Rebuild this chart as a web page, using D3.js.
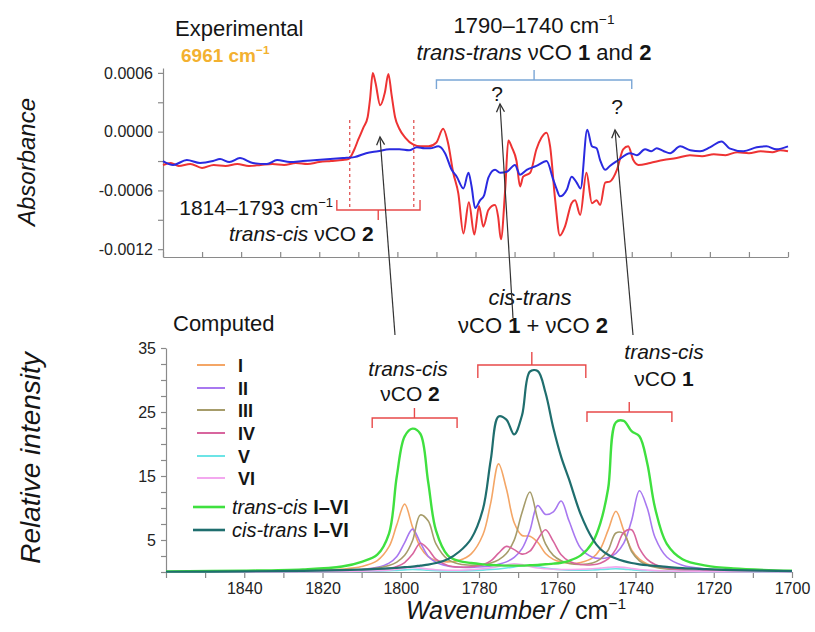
<!DOCTYPE html>
<html>
<head>
<meta charset="utf-8">
<script src="https://cdn.jsdelivr.net/npm/d3@7"></script>
<style>
  html, body { margin: 0; padding: 0; background: #fff; }
  svg { display: block; font-family: "Liberation Sans", Arial, sans-serif; }
</style>
</head>
<body>
<svg id="chart" width="815" height="632"></svg>
<script>
// ---- experimental spectra (wavenumber, absorbance) ----
const expRed = [
  [1860,-3.4e-4],[1858,-3.2e-4],[1856,-3.5e-4],[1853,-3.3e-4],[1850,-3.7e-4],[1847,-3.4e-4],
  [1844,-3.5e-4],[1841,-3.3e-4],[1838,-3.5e-4],[1835,-3.4e-4],[1832,-3.3e-4],[1829,-3.4e-4],
  [1826,-3.2e-4],[1823,-3.3e-4],[1820,-3.1e-4],[1817,-3.0e-4],[1814,-2.9e-4],[1812.5,-2.8e-4],
  [1811,-1.8e-4],[1810,-0.8e-4],[1808.7,0.4e-4],[1807.6,1.5e-4],[1807,3.3e-4],[1806.3,6.0e-4],
  [1805.6,5.0e-4],[1804.4,2.7e-4],[1803.2,4.0e-4],[1802.3,5.9e-4],[1801.5,3.8e-4],[1800.6,1.5e-4],
  [1799.5,0.3e-4],[1798,-0.6e-4],[1796,-1.3e-4],[1794,-1.5e-4],[1792,-1.5e-4],[1790,-1.1e-4],
  [1788.3,0.3e-4],[1787,-1.2e-4],[1785.7,-4.2e-4],[1784.4,-6.3e-4],[1783.1,-10.4e-4],[1781.7,-7.2e-4],
  [1780.3,-10.5e-4],[1779.1,-7.6e-4],[1778,-9.7e-4],[1776.7,-8.0e-4],[1775,-7.5e-4],[1774.2,-8.7e-4],
  [1773.5,-11.0e-4],[1772.4,-5.9e-4],[1771.6,-0.9e-4],[1770.7,-1.6e-4],[1769.5,-3.0e-4],[1768.6,-5.6e-4],
  [1767.8,-4.6e-4],[1766,-4.2e-4],[1764.4,-1.8e-4],[1763.1,-0.6e-4],[1761.8,-0.1e-4],[1760.9,-1.5e-4],
  [1759.6,-7.0e-4],[1758.4,-10.6e-4],[1757.1,-9.7e-4],[1755.4,-7.3e-4],[1754.5,-7.0e-4],[1753.2,-8.5e-4],
  [1751.6,-4.2e-4],[1750.2,-7.3e-4],[1749,-7.0e-4],[1748.1,-7.5e-4],[1746.8,-5.2e-4],[1745.6,-5.1e-4],
  [1743.8,-3.9e-4],[1742.2,-1.8e-4],[1740.9,-1.5e-4],[1739.6,-2.9e-4],[1738.3,-3.4e-4],[1735.3,-3.2e-4],
  [1731.9,-2.9e-4],[1728.5,-2.7e-4],[1725.1,-2.4e-4],[1722,-2.5e-4],[1719,-2.3e-4],[1716,-2.4e-4],
  [1713,-2.1e-4],[1710,-2.2e-4],[1707,-2.0e-4],[1704,-2.1e-4],[1702,-1.9e-4],[1700,-2.0e-4]
];
const expBlue = [
  [1860,-3.0e-4],[1857.4,-3.4e-4],[1853.9,-2.9e-4],[1850.5,-3.2e-4],[1847.2,-3.0e-4],[1845.4,-2.8e-4],
  [1843,-3.1e-4],[1840.3,-2.7e-4],[1837,-3.2e-4],[1833.4,-3.3e-4],[1830.8,-2.9e-4],[1827.5,-3.1e-4],
  [1824.2,-3.0e-4],[1820.6,-2.9e-4],[1817.2,-2.8e-4],[1813.9,-2.7e-4],[1811,-2.6e-4],[1808,-2.2e-4],
  [1805,-2.0e-4],[1802,-1.8e-4],[1799.5,-1.8e-4],[1797,-1.9e-4],[1795,-1.6e-4],[1793,-1.7e-4],
  [1791.6,-1.7e-4],[1789.5,-1.5e-4],[1787.8,-2.2e-4],[1786.1,-3.9e-4],[1784.8,-4.6e-4],[1783.1,-5.8e-4],
  [1781.8,-4.2e-4],[1781,-5.6e-4],[1780.1,-7.8e-4],[1778.8,-7.0e-4],[1777.8,-6.5e-4],[1776.7,-4.7e-4],
  [1775,-3.9e-4],[1773.7,-4.2e-4],[1772,-4.1e-4],[1769.9,-3.4e-4],[1768.6,-4.4e-4],[1766.9,-3.9e-4],
  [1764.4,-3.5e-4],[1761.8,-3.0e-4],[1760.1,-4.9e-4],[1759.2,-5.9e-4],[1758.4,-6.6e-4],[1756.6,-5.9e-4],
  [1755.4,-4.6e-4],[1754.1,-5.2e-4],[1753.1,-5.8e-4],[1751.4,0.2e-4],[1750.2,-1.5e-4],[1749,-1.7e-4],
  [1748.1,-2.9e-4],[1746.8,-3.9e-4],[1745.6,-3.5e-4],[1743.8,-3.0e-4],[1740.4,-2.2e-4],[1738.7,-2.4e-4],
  [1736.6,-1.8e-4],[1735,-2.0e-4],[1733.6,-1.7e-4],[1731.8,-2.0e-4],[1730.2,-2.2e-4],[1727.6,-1.5e-4],
  [1725,-1.9e-4],[1722.5,-2.0e-4],[1720,-1.6e-4],[1717,-1.0e-4],[1715,-1.7e-4],[1711.4,-2.0e-4],
  [1708,-1.6e-4],[1705.5,-1.5e-4],[1703,-1.8e-4],[1700,-1.5e-4]
];

// ---- computed spectra, sampled on a common wavenumber grid ----
const calcWn = [1860,1840,1825,1815,1810,1806,1803,1801,1799,1797,1795,1793,1791,1788,1785,1782,1779,1777,1775,1773,
  1771,1769,1767,1765,1763,1761,1759,1757,1754,1751,1749,1747,1745,1743,1741,1739,1737,1735,1732,1728,1722,1715,1700];
const calcI   = [0.05,0.1,0.21,0.45,0.85,1.78,3.95,7.4,10.6,7.05,3.9,2.4,1.8,1.58,1.84,2.84,5.82,10.8,16.9,13.0,
  7.7,5.7,5.6,4.65,2.9,1.97,1.55,1.36,1.49,2.2,3.6,6.55,9.5,6.5,3.45,2.0,1.25,0.87,0.56,0.36,0.22,0.13,0.05];
const calcII  = [0.05,0.07,0.12,0.24,0.4,0.73,1.39,2.44,4.6,6.7,4.6,2.46,1.52,0.94,0.74,0.73,0.82,0.95,1.2,1.58,
  2.3,3.65,6.46,10.4,9.0,9.4,11.1,8.0,3.7,2.3,2.1,2.25,2.9,4.5,8.05,12.7,10.0,5.4,2.35,1.05,0.47,0.25,0.1];
const calcIII = [0.05,0.07,0.12,0.25,0.39,0.63,1.03,1.55,2.6,4.88,8.9,8.0,4.4,1.98,1.24,1.05,1.15,1.39,1.89,2.88,
  4.98,9.3,12.5,8.22,4.4,2.6,1.76,1.35,1.18,1.42,2.02,3.4,6.1,6.0,3.2,1.75,1.08,0.73,0.46,0.28,0.17,0.1,0.04];
const calcIV  = [0.03,0.04,0.07,0.13,0.21,0.35,0.57,0.87,1.48,2.78,4.5,3.55,2.0,1.03,0.77,0.81,1.14,1.73,2.94,4.0,
  3.5,2.8,3.25,5.08,6.6,4.78,2.68,1.69,1.17,1.14,1.38,2.04,3.57,6.2,6.6,3.7,1.97,1.16,0.62,0.34,0.17,0.09,0.03];
const calcV   = [0.02,0.03,0.05,0.08,0.1,0.14,0.2,0.26,0.33,0.4,0.35,0.27,0.22,0.17,0.18,0.22,0.3,0.38,0.48,0.62,
  0.8,0.97,1.0,0.85,0.62,0.45,0.35,0.3,0.28,0.32,0.38,0.45,0.5,0.45,0.35,0.26,0.2,0.15,0.11,0.07,0.05,0.03,0.02];
const calcVI  = [0.02,0.04,0.06,0.1,0.14,0.2,0.3,0.42,0.58,0.7,0.6,0.45,0.35,0.28,0.28,0.35,0.5,0.65,0.85,1.1,
  1.3,1.15,0.85,0.62,0.5,0.42,0.4,0.4,0.42,0.5,0.6,0.72,0.8,0.72,0.55,0.4,0.3,0.22,0.15,0.1,0.06,0.04,0.02];
const calcTransCis = [0.1,0.2,0.4,0.85,1.6,2.7,6.0,15.0,21.2,22.4,21.6,14.1,6.5,2.6,1.7,1.4,1.2,1.1,1.05,1.0,
  1.0,1.0,1.05,1.1,1.2,1.3,1.45,1.75,2.6,4.6,7.6,13.0,23.4,23.6,22.0,21.2,17.0,10.0,4.4,2.0,1.0,0.55,0.2];
const calcCisTrans = [0.04,0.1,0.18,0.3,0.38,0.48,0.57,0.65,0.75,0.85,1.0,1.15,1.4,2.0,3.2,5.2,9.8,17.5,24.3,23.8,
  21.5,24.5,31.3,31.4,28.0,22.5,18.0,14.5,9.0,5.2,3.6,2.7,2.1,1.7,1.4,1.2,1.05,0.95,0.8,0.6,0.45,0.3,0.15];

const seriesNames = ['I', 'II', 'III', 'IV', 'V', 'VI'];
const seriesColors = ['#f4a666', '#a878f0', '#a69c6a', '#d8659e', '#6ce4e6', '#f3a8ef'];
const greenColor = '#3fe03f', tealColor = '#1f6e6e';

const topYTicks = [0.0006, 0.0003, 0, -0.0003, -0.0006, -0.0009, -0.0012];
const topYLabels = [0.0006, 0, -0.0006, -0.0012];
const wnTicks = d3.range(1860, 1699, -10);

// ---- setup ----
const svg = d3.select('#chart');
const FONT = '"Liberation Sans", Arial, sans-serif';
const axisGrey = '#8a8a8a';
const ANN = 22; // annotation font size
const ANN2 = 21; // stacked two-line labels

const x1 = d3.scaleLinear().domain([1860, 1700]).range([163, 788]);
const y1 = d3.scaleLinear().domain([-0.00128, 0.00065]).range([257, 68]);
const x2 = d3.scaleLinear().domain([1860, 1700]).range([166, 792]);
const y2 = d3.scaleLinear().domain([0, 35]).range([572, 348]);

function styleAxis(g) {
  g.attr('font-size', 16).attr('font-family', FONT);
  g.selectAll('.domain, .tick line').attr('stroke', axisGrey).attr('stroke-width', 1.2);
  g.selectAll('.tick text').attr('fill', '#222');
}

// rich text: parts = [{t, i, b, sup}]
function richText(x, y, parts, size, anchor, fill) {
  const t = svg.append('text').attr('x', x).attr('y', y)
    .attr('font-size', size).attr('text-anchor', anchor || 'start')
    .attr('fill', fill || '#151515');
  parts.forEach(p => {
    const s = t.append('tspan').text(p.t);
    if (p.i) s.attr('font-style', 'italic');
    if (p.b) s.attr('font-weight', 'bold');
    if (p.sup) s.attr('font-size', size * 0.62).attr('dy', -size * 0.4);
  });
  return t;
}

function bracket(xa, xb, xc, y, endY, tipY, color) {
  svg.append('path')
    .attr('d', `M${xa},${endY}L${xa},${y}L${xb},${y}L${xb},${endY}M${xc},${y}L${xc},${tipY}`)
    .attr('fill', 'none').attr('stroke', color).attr('stroke-width', 1.4);
}

// ---- top panel: axes ----
svg.append('g').attr('transform', 'translate(0,257)')
  .call(d3.axisBottom(x1).tickValues(wnTicks).tickSize(-5).tickSizeOuter(0).tickFormat(''))
  .call(styleAxis);
svg.append('g').attr('transform', 'translate(163,0)')
  .call(d3.axisLeft(y1).tickValues(topYTicks).tickSize(5).tickSizeOuter(0).tickPadding(5)
    .tickFormat(d => topYLabels.includes(d) ? d.toFixed(4) : ''))
  .call(styleAxis);

// dashed range markers
[1812.2, 1795.8].forEach(w => {
  svg.append('line').attr('x1', x1(w)).attr('x2', x1(w)).attr('y1', 120).attr('y2', 207)
    .attr('stroke', '#e05555').attr('stroke-width', 1.3).attr('stroke-dasharray', '3,3');
});

const topLine = d3.line().x(d => x1(d[0])).y(d => y1(d[1])).curve(d3.curveMonotoneX);
svg.append('path').datum(expRed).attr('d', topLine)
  .attr('fill', 'none').attr('stroke', '#ee3333').attr('stroke-width', 2);
svg.append('path').datum(expBlue).attr('d', topLine)
  .attr('fill', 'none').attr('stroke', '#2a2ae0').attr('stroke-width', 2);

// ---- bottom panel: axes ----
svg.append('g').attr('transform', 'translate(0,572)')
  .call(d3.axisBottom(x2).tickValues(wnTicks).tickSize(6).tickSizeOuter(0).tickPadding(5)
    .tickFormat(d => (d % 20 === 0 && d !== 1860) ? d : ''))
  .call(styleAxis);
svg.append('g').attr('transform', 'translate(166,0)')
  .call(d3.axisLeft(y2).tickValues(d3.range(0, 35.1, 2.5)).tickSize(5).tickSizeOuter(0).tickPadding(5)
    .tickFormat(d => d % 10 === 5 ? d : ''))
  .call(styleAxis);

const calcLine = vals => d3.line()
  .x((d, i) => x2(calcWn[i])).y(d => y2(d))
  .curve(d3.curveCatmullRom.alpha(0.5))(vals);

[calcI, calcII, calcIII, calcIV, calcV, calcVI].forEach((vals, k) => {
  svg.append('path').attr('d', calcLine(vals))
    .attr('fill', 'none').attr('stroke', seriesColors[k]).attr('stroke-width', 1.6);
});
svg.append('path').attr('d', calcLine(calcTransCis))
  .attr('fill', 'none').attr('stroke', greenColor).attr('stroke-width', 2.4);
svg.append('path').attr('d', calcLine(calcCisTrans))
  .attr('fill', 'none').attr('stroke', tealColor).attr('stroke-width', 2.2);

// ---- legend ----
const legendRows = [365, 388, 410, 433, 456, 478];
seriesNames.forEach((n, k) => {
  svg.append('line').attr('x1', 197).attr('x2', 225).attr('y1', legendRows[k]).attr('y2', legendRows[k])
    .attr('stroke', seriesColors[k]).attr('stroke-width', 2);
  richText(238, legendRows[k] + 6.5, [{ t: n, b: true }], 18);
});
[[507, greenColor, 'trans-cis'], [530, tealColor, 'cis-trans']].forEach(([yy, c, lbl]) => {
  svg.append('line').attr('x1', 193).attr('x2', 225).attr('y1', yy).attr('y2', yy)
    .attr('stroke', c).attr('stroke-width', 2.6);
  richText(232, yy + 7, [{ t: lbl + ' ', i: true }, { t: 'I–VI', b: true }], 20);
});

// ---- axis titles ----
svg.append('text').attr('transform', 'translate(35,162) rotate(-90)')
  .attr('text-anchor', 'middle').attr('font-size', 24).attr('font-style', 'italic')
  .attr('fill', '#151515').text('Absorbance');
svg.append('text').attr('transform', 'translate(40,458) rotate(-90)')
  .attr('text-anchor', 'middle').attr('font-size', 28).attr('font-style', 'italic')
  .attr('fill', '#151515').text('Relative intensity');
richText(516, 619, [{ t: 'Wavenumber / ', i: true }, { t: 'cm' }, { t: '−1', sup: true }], 25, 'middle');

// ---- annotations ----
richText(175, 36, [{ t: 'Experimental' }], ANN);
richText(181, 62, [{ t: '6961 cm', b: true }, { t: '−1', b: true, sup: true }], 19, 'start', '#f3b130');
richText(173, 331, [{ t: 'Computed' }], ANN);

richText(534, 33, [{ t: '1790–1740 cm' }, { t: '−1', sup: true }], ANN, 'middle');
richText(534, 60, [{ t: 'trans-trans', i: true }, { t: ' νCO ' }, { t: '1', b: true }, { t: ' and ' }, { t: '2', b: true }], ANN, 'middle');
bracket(x1(1790), x1(1740), x1(1765), 80, 89, 70, '#7aa6d6');

richText(333, 215, [{ t: '1814–1793 cm' }, { t: '−1', sup: true }], ANN2, 'end');
richText(229, 241, [{ t: 'trans-cis', i: true }, { t: ' νCO ' }, { t: '2', b: true }], ANN2);
bracket(x1(1815.5), x1(1794.2), x1(1804.9), 210, 200, 220, '#e84a4a');

richText(497, 101, [{ t: '?' }], 21, 'middle');
richText(617, 114, [{ t: '?' }], 21, 'middle');

richText(408, 376, [{ t: 'trans-cis', i: true }], ANN2, 'middle');
richText(410, 401, [{ t: 'νCO ' }, { t: '2', b: true }], ANN2, 'middle');
bracket(x2(1807.3), x2(1785.6), x2(1796.5), 418, 428, 408, '#e84a4a');

richText(530, 305, [{ t: 'cis-trans', i: true }], ANN, 'middle');
richText(533, 333, [{ t: 'νCO ' }, { t: '1', b: true }, { t: ' + νCO ' }, { t: '2', b: true }], ANN, 'middle');
bracket(x2(1780.3), x2(1752.7), x2(1766.5), 365, 378, 352, '#e84a4a');

richText(664, 359, [{ t: 'trans-cis', i: true }], ANN2, 'middle');
richText(664, 386, [{ t: 'νCO ' }, { t: '1', b: true }], ANN2, 'middle');
bracket(x2(1752.4), x2(1730.7), x2(1741.6), 412, 422, 402, '#e84a4a');

// arrows from computed bands up to the experimental features
svg.append('defs').append('marker').attr('id', 'arr')
  .attr('viewBox', '-10 -6 12 12').attr('refX', 0).attr('refY', 0)
  .attr('markerWidth', 12).attr('markerHeight', 12).attr('markerUnits', 'userSpaceOnUse')
  .attr('orient', 'auto')
  .append('path').attr('d', 'M-8,-4L0,0L-8,4').attr('fill', 'none')
  .attr('stroke', '#333').attr('stroke-width', 1.3);
[[395, 335, 380, 137], [513, 318, 500, 104], [633, 335, 615, 130]].forEach(a => {
  svg.append('line').attr('x1', a[0]).attr('y1', a[1]).attr('x2', a[2]).attr('y2', a[3])
    .attr('stroke', '#333').attr('stroke-width', 1.2).attr('marker-end', 'url(#arr)');
});
</script>
</body>
</html>
